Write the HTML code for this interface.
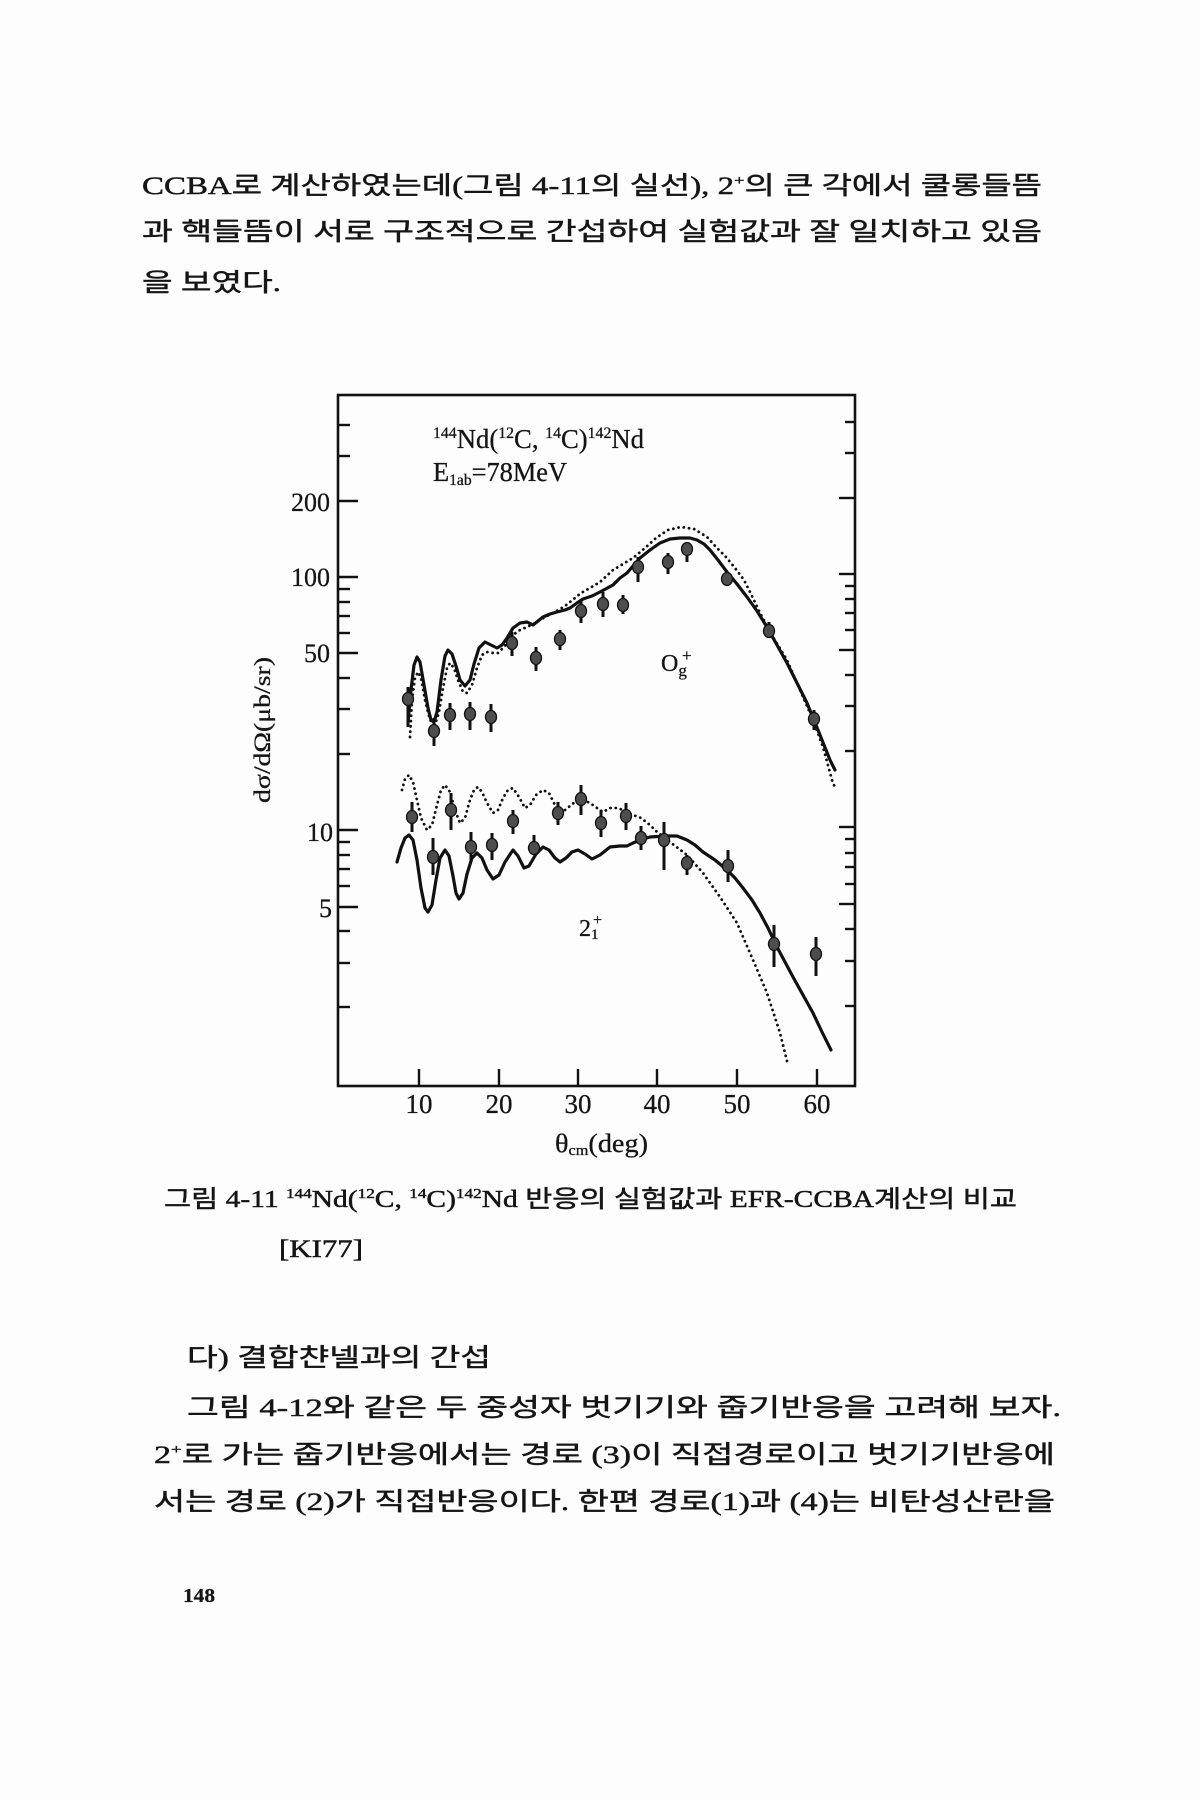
<!DOCTYPE html>
<html>
<head>
<meta charset="utf-8">
<style>
  html,body{margin:0;padding:0;background:#fdfdfd;}
  svg{display:block;}
  .kr{font-family:"Liberation Serif","Noto Sans CJK KR",serif;fill:#151515;stroke:#151515;stroke-width:0.45px;}
  .sr{font-family:"Liberation Serif",serif;fill:#151515;stroke:#151515;stroke-width:0.3px;}
</style>
</head>
<body>
<svg width="1200" height="1800" viewBox="0 0 1200 1800" xmlns="http://www.w3.org/2000/svg">
  <rect x="0" y="0" width="1200" height="1800" fill="#fdfdfd"/>

  <!-- top paragraph -->
  <text class="kr" x="142" y="194" font-size="25" textLength="900" lengthAdjust="spacingAndGlyphs">CCBA로 계산하였는데(그림 4-11의 실선), 2<tspan font-size="14" dy="-9">+</tspan><tspan dy="9">의 큰 각에서 쿨롱들뜸</tspan></text>
  <text class="kr" x="142" y="240" font-size="25" textLength="900" lengthAdjust="spacingAndGlyphs">과 핵들뜸이 서로 구조적으로 간섭하여 실험값과 잘 일치하고 있음</text>
  <text class="kr" x="142" y="291" font-size="25" textLength="139" lengthAdjust="spacingAndGlyphs">을 보였다.</text>

  <!-- chart frame -->
  <rect x="338" y="395" width="517" height="691" fill="none" stroke="#111" stroke-width="2.6"/>

  <!-- left ticks -->
  <g stroke="#111" stroke-width="2.4">
    <line x1="338" y1="425" x2="350" y2="425"/>
    <line x1="338" y1="456" x2="350" y2="456"/>
    <line x1="338" y1="501" x2="358" y2="501"/>
    <line x1="338" y1="577" x2="358" y2="577"/>
    <line x1="338" y1="589" x2="350" y2="589"/>
    <line x1="338" y1="602" x2="350" y2="602"/>
    <line x1="338" y1="616" x2="350" y2="616"/>
    <line x1="338" y1="633" x2="350" y2="633"/>
    <line x1="338" y1="653" x2="358" y2="653"/>
    <line x1="338" y1="678" x2="350" y2="678"/>
    <line x1="338" y1="709" x2="350" y2="709"/>
    <line x1="338" y1="754" x2="350" y2="754"/>
    <line x1="338" y1="830" x2="358" y2="830"/>
    <line x1="338" y1="842" x2="350" y2="842"/>
    <line x1="338" y1="855" x2="350" y2="855"/>
    <line x1="338" y1="869" x2="350" y2="869"/>
    <line x1="338" y1="886" x2="350" y2="886"/>
    <line x1="338" y1="907" x2="358" y2="907"/>
    <line x1="338" y1="931" x2="350" y2="931"/>
    <line x1="338" y1="963" x2="350" y2="963"/>
    <line x1="338" y1="1007" x2="350" y2="1007"/>
  </g>
  <!-- right ticks -->
  <g stroke="#111" stroke-width="2.4">
    <line x1="855" y1="422" x2="845" y2="422"/>
    <line x1="855" y1="453" x2="845" y2="453"/>
    <line x1="855" y1="498" x2="839" y2="498"/>
    <line x1="855" y1="574" x2="839" y2="574"/>
    <line x1="855" y1="586" x2="845" y2="586"/>
    <line x1="855" y1="599" x2="845" y2="599"/>
    <line x1="855" y1="613" x2="845" y2="613"/>
    <line x1="855" y1="630" x2="845" y2="630"/>
    <line x1="855" y1="650" x2="839" y2="650"/>
    <line x1="855" y1="675" x2="845" y2="675"/>
    <line x1="855" y1="706" x2="845" y2="706"/>
    <line x1="855" y1="751" x2="845" y2="751"/>
    <line x1="855" y1="827" x2="839" y2="827"/>
    <line x1="855" y1="839" x2="845" y2="839"/>
    <line x1="855" y1="853" x2="845" y2="853"/>
    <line x1="855" y1="867" x2="845" y2="867"/>
    <line x1="855" y1="884" x2="845" y2="884"/>
    <line x1="855" y1="904" x2="839" y2="904"/>
    <line x1="855" y1="929" x2="845" y2="929"/>
    <line x1="855" y1="961" x2="845" y2="961"/>
    <line x1="855" y1="1006" x2="845" y2="1006"/>
  </g>
  <!-- bottom ticks -->
  <g stroke="#111" stroke-width="2.4">
    <line x1="419" y1="1086" x2="419" y2="1069"/>
    <line x1="499" y1="1086" x2="499" y2="1069"/>
    <line x1="578" y1="1086" x2="578" y2="1069"/>
    <line x1="657" y1="1086" x2="657" y2="1069"/>
    <line x1="737" y1="1086" x2="737" y2="1069"/>
    <line x1="817" y1="1086" x2="817" y2="1069"/>
  </g>

  <!-- y tick labels -->
  <g class="sr" font-size="26" text-anchor="end">
    <text x="330" y="511">200</text>
    <text x="330" y="586">100</text>
    <text x="330" y="662">50</text>
    <text x="333" y="841">10</text>
    <text x="332" y="917">5</text>
  </g>
  <!-- x tick labels -->
  <g class="sr" font-size="27" text-anchor="middle">
    <text x="419" y="1113">10</text>
    <text x="499" y="1113">20</text>
    <text x="578" y="1113">30</text>
    <text x="657" y="1113">40</text>
    <text x="737" y="1113">50</text>
    <text x="817" y="1113">60</text>
  </g>
  <!-- axis titles -->
  <text class="sr" x="555" y="1152" font-size="26" textLength="93" lengthAdjust="spacingAndGlyphs">θ<tspan font-size="15" dy="3">cm</tspan><tspan dy="-3">(deg)</tspan></text>
  <text class="sr" font-size="23" text-anchor="middle" transform="translate(270,730) rotate(-90)" textLength="146" lengthAdjust="spacingAndGlyphs">dσ/dΩ(μb/sr)</text>

  <!-- in-chart labels -->
  <text class="sr" x="433" y="448" font-size="27" textLength="211" lengthAdjust="spacingAndGlyphs"><tspan font-size="16" dy="-10">144</tspan><tspan dy="10">Nd(</tspan><tspan font-size="16" dy="-10">12</tspan><tspan dy="10">C, </tspan><tspan font-size="16" dy="-10">14</tspan><tspan dy="10">C)</tspan><tspan font-size="16" dy="-10">142</tspan><tspan dy="10">Nd</tspan></text>
  <text class="sr" x="433" y="481" font-size="27" textLength="134" lengthAdjust="spacingAndGlyphs">E<tspan font-size="16" dy="4">1ab</tspan><tspan dy="-4">=78MeV</tspan></text>
  <text class="sr" x="661" y="671" font-size="24">O<tspan font-size="17" dy="5">g</tspan></text>
  <text class="sr" x="682" y="661" font-size="17">+</text>
  <text class="sr" x="579" y="936" font-size="24">2<tspan font-size="15" dy="3">1</tspan></text>
  <text class="sr" x="593" y="925" font-size="16">+</text>

  <!-- upper solid -->
  <polyline fill="none" stroke="#111" stroke-width="3.2" stroke-linejoin="round" stroke-linecap="round"
    points="408,723 411,690 414,665 417,657 420,662 424,685 428,708 431,720 434,722 437,712 441,680 445,656 448,650 452,654 456,666 460,680 465,686 470,680 474,664 479,648 485,642 491,645 497,648 502,645 507,638 513,628 520,623 527,622 533,625 538,621 543,617 550,614 557,612 565,610 570,608 577,603 583,599 592,596 600,592 613,585 620,578 627,573 640,558 650,550 660,543 670,539 680,538 690,538 697,540 704,544 710,550 718,560 727,572 737,584 747,597 757,611 767,627 777,645 787,663 797,683 807,703 818,730 830,760 835,770"/>
  <!-- upper dotted -->
  <polyline fill="none" stroke="#111" stroke-width="2.8" stroke-dasharray="0.1 5.2" stroke-linecap="round" stroke-linejoin="round"
    points="410,737 412,700 415,678 418,672 421,678 425,700 430,720 435,725 439,712 443,688 447,668 450,663 454,668 458,680 463,692 467,693 472,685 477,668 482,655 487,652 493,653 498,653 504,647 509,640 513,635 520,630 527,627 535,623 545,617 555,612 565,606 575,598 581,593 590,588 600,582 613,570 623,564 633,558 645,548 656,538 668,530 681,527 694,529 707,537 717,548 726,557 735,568 744,580 752,596 760,613 773,637 787,660 800,690 813,720 823,747 832,780 836,790"/>

  <!-- lower solid -->
  <polyline fill="none" stroke="#111" stroke-width="3.2" stroke-linejoin="round" stroke-linecap="round"
    points="397,862 401,848 405,838 409,835 413,840 417,860 421,888 425,908 428,912 432,905 436,880 440,858 445,850 449,856 453,876 456,893 459,899 463,893 467,874 472,858 477,853 482,858 487,870 493,879 499,875 505,862 513,850 518,856 524,868 529,866 536,854 543,847 549,850 555,858 560,862 566,858 572,852 578,850 585,854 592,859 600,855 610,847 620,846 627,846 633,843 640,840 650,837 665,836 677,836 687,840 695,845 703,852 715,860 727,870 735,878 743,888 752,900 760,913 768,928 777,947 785,962 793,977 803,995 813,1013 822,1032 831,1050"/>
  <!-- lower dotted -->
  <polyline fill="none" stroke="#111" stroke-width="2.8" stroke-dasharray="0.1 5.2" stroke-linecap="round" stroke-linejoin="round"
    points="402,790 405,779 409,775 413,782 417,800 421,818 427,830 432,825 437,805 441,790 445,785 450,792 455,810 460,823 465,818 470,800 474,790 478,787 482,792 487,803 493,813 498,810 503,798 508,790 513,788 519,797 525,808 530,805 536,795 543,790 549,793 555,805 560,812 565,810 570,806 575,802 583,800 590,803 597,808 603,812 610,808 618,808 627,812 633,815 641,818 650,825 657,832 670,842 687,855 703,873 720,897 737,923 753,960 767,993 780,1033 788,1065"/>

  <!-- error bars -->
  <g stroke="#111" stroke-width="3" stroke-linecap="butt">
    <line x1="408" y1="687" x2="408" y2="727"/>
    <line x1="434" y1="718" x2="434" y2="746"/>
    <line x1="450" y1="703" x2="450" y2="730"/>
    <line x1="470" y1="702" x2="470" y2="730"/>
    <line x1="491" y1="704" x2="491" y2="732"/>
    <line x1="512" y1="632" x2="512" y2="656"/>
    <line x1="536" y1="647" x2="536" y2="671"/>
    <line x1="560" y1="630" x2="560" y2="650"/>
    <line x1="581" y1="600" x2="581" y2="623"/>
    <line x1="603" y1="592" x2="603" y2="617"/>
    <line x1="623" y1="595" x2="623" y2="614"/>
    <line x1="638" y1="557" x2="638" y2="582"/>
    <line x1="668" y1="553" x2="668" y2="574"/>
    <line x1="687" y1="542" x2="687" y2="562"/>
    <line x1="769" y1="622" x2="769" y2="638"/>
    <line x1="814" y1="710" x2="814" y2="730"/>

    <line x1="412" y1="802" x2="412" y2="832"/>
    <line x1="433" y1="838" x2="433" y2="875"/>
    <line x1="451" y1="793" x2="451" y2="830"/>
    <line x1="471" y1="832" x2="471" y2="860"/>
    <line x1="492" y1="833" x2="492" y2="860"/>
    <line x1="513" y1="810" x2="513" y2="834"/>
    <line x1="534" y1="835" x2="534" y2="855"/>
    <line x1="558" y1="802" x2="558" y2="825"/>
    <line x1="581" y1="785" x2="581" y2="815"/>
    <line x1="601" y1="810" x2="601" y2="837"/>
    <line x1="626" y1="803" x2="626" y2="830"/>
    <line x1="641" y1="826" x2="641" y2="850"/>
    <line x1="664" y1="822" x2="664" y2="870"/>
    <line x1="687" y1="855" x2="687" y2="875"/>
    <line x1="728" y1="850" x2="728" y2="882"/>
    <line x1="774" y1="925" x2="774" y2="967"/>
    <line x1="816" y1="937" x2="816" y2="976"/>
  </g>
  <!-- markers -->
  <g fill="#4d4d4d" stroke="#111" stroke-width="1.3">
    <ellipse cx="408" cy="699" rx="5.5" ry="6.5"/>
    <ellipse cx="434" cy="731" rx="5.5" ry="6.5"/>
    <ellipse cx="450" cy="715" rx="5.5" ry="6.5"/>
    <ellipse cx="470" cy="714" rx="5.5" ry="6.5"/>
    <ellipse cx="491" cy="717" rx="5.5" ry="6.5"/>
    <ellipse cx="512" cy="643" rx="5.5" ry="6.5"/>
    <ellipse cx="536" cy="658" rx="5.5" ry="6.5"/>
    <ellipse cx="560" cy="639" rx="5.5" ry="6.5"/>
    <ellipse cx="581" cy="611" rx="5.5" ry="6.5"/>
    <ellipse cx="603" cy="604" rx="5.5" ry="6.5"/>
    <ellipse cx="623" cy="605" rx="5.5" ry="6.5"/>
    <ellipse cx="638" cy="567" rx="5.5" ry="6.5"/>
    <ellipse cx="668" cy="562" rx="5.5" ry="6.5"/>
    <ellipse cx="687" cy="549" rx="5.5" ry="6.5"/>
    <ellipse cx="727" cy="579" rx="5.5" ry="6.5"/>
    <ellipse cx="769" cy="631" rx="5.5" ry="6.5"/>
    <ellipse cx="814" cy="719" rx="5.5" ry="6.5"/>

    <ellipse cx="412" cy="817" rx="5.5" ry="6.5"/>
    <ellipse cx="433" cy="857" rx="5.5" ry="6.5"/>
    <ellipse cx="451" cy="810" rx="5.5" ry="6.5"/>
    <ellipse cx="471" cy="847" rx="5.5" ry="6.5"/>
    <ellipse cx="492" cy="845" rx="5.5" ry="6.5"/>
    <ellipse cx="513" cy="821" rx="5.5" ry="6.5"/>
    <ellipse cx="534" cy="848" rx="5.5" ry="6.5"/>
    <ellipse cx="558" cy="813" rx="5.5" ry="6.5"/>
    <ellipse cx="581" cy="799" rx="5.5" ry="6.5"/>
    <ellipse cx="601" cy="823" rx="5.5" ry="6.5"/>
    <ellipse cx="626" cy="816" rx="5.5" ry="6.5"/>
    <ellipse cx="641" cy="838" rx="5.5" ry="6.5"/>
    <ellipse cx="664" cy="840" rx="5.5" ry="6.5"/>
    <ellipse cx="687" cy="863" rx="5.5" ry="6.5"/>
    <ellipse cx="728" cy="866" rx="5.5" ry="6.5"/>
    <ellipse cx="774" cy="944" rx="5.5" ry="6.5"/>
    <ellipse cx="816" cy="954" rx="5.5" ry="6.5"/>
  </g>

  <!-- caption -->
  <text class="kr" x="164" y="1207" font-size="24" textLength="853" lengthAdjust="spacingAndGlyphs">그림 4-11 <tspan font-size="14" dy="-9">144</tspan><tspan dy="9">Nd(</tspan><tspan font-size="14" dy="-9">12</tspan><tspan dy="9">C, </tspan><tspan font-size="14" dy="-9">14</tspan><tspan dy="9">C)</tspan><tspan font-size="14" dy="-9">142</tspan><tspan dy="9">Nd 반응의 실험값과 EFR-CCBA계산의 비교</tspan></text>
  <text class="kr" x="279" y="1257" font-size="25" textLength="84" lengthAdjust="spacingAndGlyphs">[KI77]</text>

  <!-- lower text -->
  <text class="kr" x="187" y="1366" font-size="25" textLength="304" lengthAdjust="spacingAndGlyphs">다) 결합챤넬과의 간섭</text>
  <text class="kr" x="187" y="1416" font-size="25" textLength="874" lengthAdjust="spacingAndGlyphs">그림 4-12와 같은 두 중성자 벗기기와 줍기반응을 고려해 보자.</text>
  <text class="kr" x="154" y="1463" font-size="25" textLength="901" lengthAdjust="spacingAndGlyphs">2<tspan font-size="14" dy="-9">+</tspan><tspan dy="9">로 가는 줍기반응에서는 경로 (3)이 직접경로이고 벗기기반응에</tspan></text>
  <text class="kr" x="154" y="1510" font-size="25" textLength="901" lengthAdjust="spacingAndGlyphs">서는 경로 (2)가 직접반응이다. 한편 경로(1)과 (4)는 비탄성산란을</text>

  <!-- page number -->
  <text class="sr" x="183" y="1602" font-size="20" font-weight="bold" textLength="32" lengthAdjust="spacingAndGlyphs">148</text>
</svg>
</body>
</html>
